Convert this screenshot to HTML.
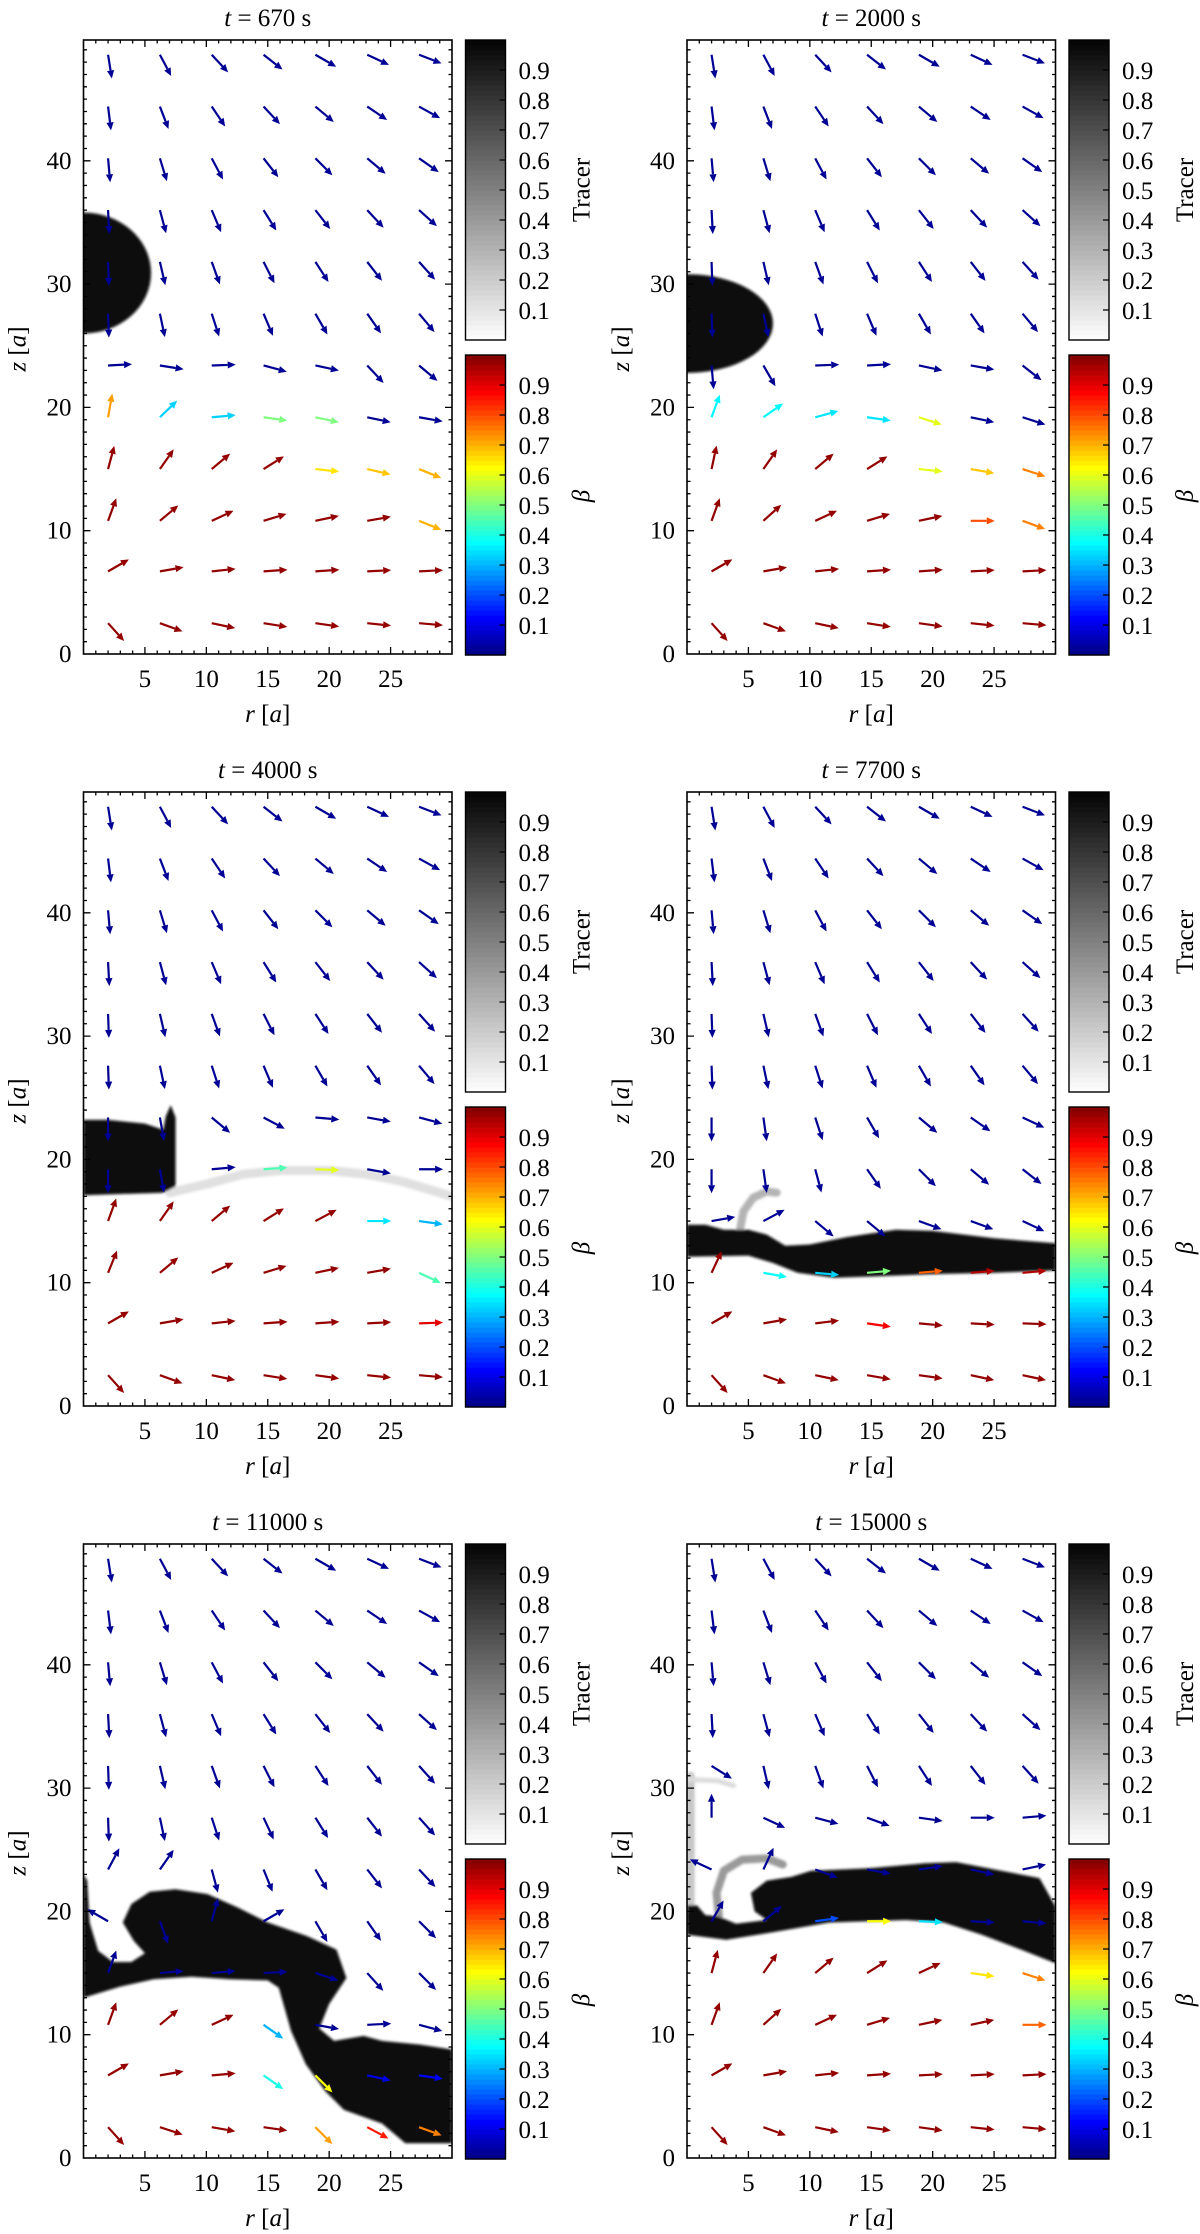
<!DOCTYPE html>
<html><head><meta charset="utf-8"><title>Tracer and beta panels</title>
<style>
html,body{margin:0;padding:0;background:#fff;}
svg{display:block;font-family:"Liberation Serif","DejaVu Serif",serif;}
</style></head>
<body>
<svg id="fig" width="1200" height="2234" viewBox="0 0 1200 2234" xmlns="http://www.w3.org/2000/svg">
<defs>
<filter id="soft" x="-10%" y="-10%" width="120%" height="120%"><feGaussianBlur stdDeviation="1.4"/></filter>
</defs>
</svg>
<script>
// ---------- data ----------
const timeLabels = ['670','2000','4000','7700','11000','15000'];
const rTicks = [5,10,15,20,25];
const zTicks = [0,10,20,30,40];
const cbTicks = ['0.1','0.2','0.3','0.4','0.5','0.6','0.7','0.8','0.9'];
const rGrid = [2.0,6.22,10.44,14.66,18.88,23.1,27.32];
const zGrid = [48.6,44.4,40.2,36.0,31.8,27.6,23.4,19.2,15.0,10.8,6.7,2.5];

// arrow angles (deg, 0=+r, 90=+z), rows top->bottom
const ang670 = [
[-81,-62,-47,-38,-30,-25,-21],[-83,-69,-56,-47,-40,-34,-29],[-85,-73,-62,-52,-45,-40,-35],
[-87,-75,-67,-58,-52,-47,-42],[-88,-77,-70,-63,-57,-52,-48],[-88,-78,-72,-67,-60,-55,-50],
[3,-9,2,-15,-12,-47,-40],[80,44,5,-8,-12,-12,-10],[75,55,40,32,-6,-13,-22],
[70,40,25,17,12,10,-22],[30,10,6,4,4,3,3],[-48,-20,-12,-9,-8,-6,-5]];
const beta670 = [
[.02,.02,.02,.02,.02,.02,.02],[.02,.02,.02,.02,.02,.02,.02],[.02,.02,.02,.02,.02,.02,.02],
[.02,.02,.02,.02,.02,.02,.02],[.02,.02,.02,.02,.02,.02,.02],[.02,.02,.02,.02,.02,.02,.02],
[.02,.02,.02,.02,.02,.02,.02],[.72,.33,.33,.5,.5,.02,.02],[.98,.98,.98,.98,.65,.68,.7],
[.98,.98,.98,.98,.98,.98,.7],[.98,.98,.98,.98,.98,.98,.98],[.98,.98,.98,.98,.98,.98,.98]];
const ang2000 = [
[-81,-62,-47,-38,-30,-25,-21],[-83,-69,-56,-47,-40,-34,-29],[-85,-73,-62,-52,-45,-40,-35],
[-87,-75,-67,-58,-52,-47,-42],[-88,-77,-70,-63,-57,-52,-48],[-88,-78,-72,-67,-60,-55,-50],
[-85,-60,2,3,-12,-10,-38],[70,35,15,-8,-18,-12,-18],[78,55,40,32,-6,-10,-18],
[70,42,25,17,12,0,-20],[30,10,6,4,4,3,3],[-48,-20,-12,-9,-8,-6,-5]];
const beta2000 = [
[.02,.02,.02,.02,.02,.02,.02],[.02,.02,.02,.02,.02,.02,.02],[.02,.02,.02,.02,.02,.02,.02],
[.02,.02,.02,.02,.02,.02,.02],[.02,.02,.02,.02,.02,.02,.02],[.02,.02,.02,.02,.02,.02,.02],
[.02,.02,.02,.02,.02,.02,.02],[.37,.37,.35,.35,.6,.02,.02],[.98,.98,.98,.98,.6,.68,.75],
[.98,.98,.98,.98,.98,.8,.75],[.98,.98,.98,.98,.98,.98,.98],[.98,.98,.98,.98,.98,.98,.98]];
const ang4000 = [
[-81,-62,-47,-38,-30,-25,-21],[-83,-69,-56,-47,-40,-34,-29],[-85,-73,-62,-52,-45,-40,-35],
[-87,-75,-67,-58,-52,-47,-42],[-88,-77,-70,-63,-57,-52,-48],[-88,-78,-72,-67,-60,-55,-50],
[-90,-80,-40,-28,-5,-10,-15],[-90,-80,5,4,-2,-10,0],[70,55,40,32,28,0,-8],
[68,40,25,17,12,10,-25],[30,10,6,4,4,3,2],[-48,-20,-12,-9,-8,-6,-5]];
const beta4000 = [
[.02,.02,.02,.02,.02,.02,.02],[.02,.02,.02,.02,.02,.02,.02],[.02,.02,.02,.02,.02,.02,.02],
[.02,.02,.02,.02,.02,.02,.02],[.02,.02,.02,.02,.02,.02,.02],[.02,.02,.02,.02,.02,.02,.02],
[.02,.02,.02,.02,.02,.02,.02],[.02,.02,.02,.45,.6,.02,.02],[.98,.98,.98,.98,.98,.35,.3],
[.98,.98,.98,.98,.98,.98,.45],[.98,.98,.98,.98,.98,.98,.9],[.98,.98,.98,.98,.98,.98,.98]];
const ang7700 = [
[-81,-62,-47,-38,-30,-25,-21],[-83,-69,-56,-47,-40,-34,-29],[-85,-73,-62,-52,-45,-40,-35],
[-87,-75,-67,-58,-52,-47,-42],[-88,-77,-70,-63,-57,-52,-48],[-88,-78,-72,-67,-60,-55,-50],
[-90,-82,-72,-60,-40,-35,-25],[-90,-82,-75,-55,-45,-40,-38],[10,28,-40,-40,-20,-20,-25],
[65,-10,-5,5,5,5,5],[30,10,7,-8,-5,-3,-2],[-48,-20,-12,-10,-8,-12,-12]];
const beta7700 = [
[.02,.02,.02,.02,.02,.02,.02],[.02,.02,.02,.02,.02,.02,.02],[.02,.02,.02,.02,.02,.02,.02],
[.02,.02,.02,.02,.02,.02,.02],[.02,.02,.02,.02,.02,.02,.02],[.02,.02,.02,.02,.02,.02,.02],
[.02,.02,.02,.02,.02,.02,.02],[.02,.02,.02,.02,.02,.02,.02],[.02,.02,.02,.02,.02,.02,.02],
[.98,.38,.33,.5,.78,.95,.95],[.98,.98,.98,.88,.98,.98,.98],[.98,.98,.98,.98,.98,.98,.98]];
const ang11000 = [
[-81,-62,-47,-38,-30,-25,-21],[-83,-69,-56,-47,-40,-34,-29],[-85,-73,-62,-52,-45,-40,-35],
[-87,-75,-67,-58,-52,-47,-42],[-88,-77,-70,-63,-57,-52,-48],[-88,-78,-72,-65,-58,-52,-48],
[62,55,-75,-68,-60,-52,-47],[150,-70,75,30,-60,-55,-45],[70,5,5,3,-18,-48,-45],
[70,40,25,-35,-10,3,-15],[30,10,5,-35,-45,-12,-8],[-48,-18,-10,-8,-45,-28,-20]];
const beta11000 = [
[.02,.02,.02,.02,.02,.02,.02],[.02,.02,.02,.02,.02,.02,.02],[.02,.02,.02,.02,.02,.02,.02],
[.02,.02,.02,.02,.02,.02,.02],[.02,.02,.02,.02,.02,.02,.02],[.02,.02,.02,.02,.02,.02,.02],
[.02,.02,.02,.02,.02,.02,.02],[.02,.02,.02,.02,.02,.02,.02],[.02,.02,.02,.02,.02,.02,.02],
[.98,.98,.98,.3,.02,.02,.02],[.98,.98,.98,.4,.62,.1,.12],[.98,.98,.98,.98,.72,.85,.75]];
const ang15000 = [
[-81,-62,-47,-38,-30,-25,-21],[-83,-69,-56,-47,-40,-34,-29],[-85,-73,-62,-52,-45,-40,-35],
[-87,-75,-67,-58,-52,-47,-42],[-32,-77,-70,-63,-57,-52,-48],[90,-25,-15,-20,-8,0,5],
[155,65,-20,-10,8,-12,12],[60,40,8,0,-2,-3,-5],[75,55,40,32,25,-8,-18],
[70,42,25,17,12,12,0],[30,10,6,4,3,3,3],[-48,-20,-12,-8,-8,-6,-5]];
const beta15000 = [
[.02,.02,.02,.02,.02,.02,.02],[.02,.02,.02,.02,.02,.02,.02],[.02,.02,.02,.02,.02,.02,.02],
[.02,.02,.02,.02,.02,.02,.02],[.02,.02,.02,.02,.02,.02,.02],[.02,.02,.02,.02,.02,.02,.02],
[.02,.02,.02,.02,.02,.02,.02],[.02,.02,.2,.62,.35,.02,.02],[.98,.98,.98,.98,.98,.65,.75],
[.98,.98,.98,.98,.98,.98,.78],[.98,.98,.98,.98,.98,.98,.98],[.98,.98,.98,.98,.98,.98,.98]];

// tracer shapes in (r, z)
const blob670 = [0,30.9,5.5,4.9];   // ellipse: r0, z0, rr, rz
const blob2000 = [0,26.8,7.0,4.0];
const poly4000 = [[0,17.1],[6.5,17.3],[7.5,17.8],[7.5,23.4],[7.1,24.4],[6.7,23.5],[6.5,22.4],[5,22.9],[2,23.2],[0,23.2]];
const streak4000 = [[7,17.3],[10,18.0],[13,18.8],[16,19.1],[20,19.1],[23,18.8],[26,18.2],[30,17.0]];
const poly7700 = [[0,12.1],[5,12.2],[7,11.6],[9,10.8],[12,10.4],[15,10.5],[20,10.7],[25,10.8],[30,11.0],[30,13.2],[25,13.6],[20,14.2],[17,14.3],[13,13.7],[10,13.1],[8,13.0],[6.5,13.9],[5,14.3],[3,14.3],[1.5,14.7],[0,14.7]];
const wisp7700 = [[4.3,14.2],[4.6,15.8],[5.4,16.9],[6.5,17.4],[7.3,17.3]];
const poly11000 = [[0,13.0],[3,13.9],[5.7,14.5],[8.8,14.7],[11.9,14.5],[15,14.4],[15.9,13.8],[16.9,10.3],[18.1,7.6],[19.7,5.4],[21.2,3.9],[24.3,2.8],[26.2,1.2],[30,1.2],[30,8.8],[27.4,9.2],[24.3,9.5],[22.8,9.9],[20.4,9.5],[19.2,10.5],[20,12.5],[21.4,14.6],[20.6,16.9],[18.2,18.0],[15,19.1],[12.6,20.3],[10.1,21.4],[7.5,21.8],[5.4,21.6],[3.9,20.6],[3.2,19.1],[4.1,17.6],[5.0,16.6],[3.9,15.9],[2.4,15.9],[1.2,16.8],[0.5,19.1],[0.3,22.5],[0,23]];
const poly15000 = [[0,18.1],[3.2,17.7],[6.9,18.3],[11.6,19.1],[17.8,19.3],[20.9,19.1],[24,18.1],[27.2,16.9],[30,15.8],[30,20.4],[28.7,22.7],[24,23.6],[21.9,24.0],[19.4,23.9],[14.8,23.5],[10.1,23.3],[8.5,22.8],[6.5,22.5],[5.2,21.5],[5.5,20],[6.5,19.3],[4,19.0],[2.5,19.6],[1.5,19.7],[0.8,20.5],[0,20.5]];
const curl15000 = [[2.6,19.6],[2.4,21.5],[3.0,23.3],[4.5,24.2],[6.5,24.3],[7.8,23.8]];
const strip15000 = [[0.3,20],[0.3,31]];
const streak15000 = [[0,30.7],[2.5,30.6],[3.8,30.2]];

const angleSets = [ang670,ang2000,ang4000,ang7700,ang11000,ang15000];
const betaSets = [beta670,beta2000,beta4000,beta7700,beta11000,beta15000];

// ---------- drawing ----------
const NS = 'http://www.w3.org/2000/svg';
const svg = document.getElementById('fig');
function mk(tag, attrs, parent){
  const e = document.createElementNS(NS, tag);
  for (const k in attrs) e.setAttribute(k, attrs[k]);
  (parent||svg).appendChild(e);
  return e;
}
function jet(x){
  const c = v => Math.round(255*Math.max(0,Math.min(1,v)));
  return 'rgb('+c(1.5-Math.abs(4*x-3))+','+c(1.5-Math.abs(4*x-2))+','+c(1.5-Math.abs(4*x-1))+')';
}
const PW = 368.5, PH = 614, RS = PW/30, ZS = 12.33, ALEN = 24;

for (let p = 0; p < 6; p++){
  const col = p%2, row = Math.floor(p/2);
  const X0 = col ? 687 : 83.5;
  const Y0 = 40 + 752*row, YB = Y0 + PH;
  const sx = r => X0 + r*RS;
  const sy = z => YB - z*ZS;
  const g = mk('g', {});
  
  

  // title
  const tt = mk('text', {x: X0+PW/2, y: Y0-14, 'font-size': 25, 'text-anchor': 'middle'}, g);
  
  
  const ti = mk('tspan', {'font-style':'italic'}, tt); ti.textContent = 't';
  const tr = mk('tspan', {}, tt); tr.textContent = ' = ' + timeLabels[p] + ' s';

  // clip
  const cp = mk('clipPath', {id: 'clip'+p}, g);
  mk('rect', {x: X0, y: Y0, width: PW, height: PH}, cp);
  const plot = mk('g', {'clip-path': 'url(#clip'+p+')'}, g);
  
  

  // tracer
  const tg = mk('g', {filter: 'url(#soft)'}, plot);
  
  
  const poly = (pts, fill) => {
    const e = mk('polygon', {points: pts.map(q => sx(q[0]).toFixed(1)+','+sy(q[1]).toFixed(1)).join(' '), fill: fill}, tg);
    
    
  };
  const line = (pts, stroke, w) => {
    const e = mk('polyline', {points: pts.map(q => sx(q[0]).toFixed(1)+','+sy(q[1]).toFixed(1)).join(' '), fill: 'none', stroke: stroke, 'stroke-width': w, 'stroke-linecap': 'round', 'stroke-linejoin': 'round'}, tg);
    
    
  };
  const ell = (b) => {
    const e = mk('ellipse', {cx: sx(b[0]), cy: sy(b[1]), rx: b[2]*RS, ry: b[3]*ZS, fill: '#0a0a0a'}, tg);
    
    
  };
  if (p === 0) ell(blob670);
  if (p === 1) ell(blob2000);
  if (p === 2){ line(streak4000, '#e0e0e0', 9); poly(poly4000, '#0a0a0a'); }
  if (p === 3){ line(wisp7700, '#b4b4b4', 8); poly(poly7700, '#111'); }
  if (p === 4){ poly(poly11000, '#111'); }
  if (p === 5){ line(strip15000, '#c8c8c8', 8); line(streak15000, '#dcdcdc', 5); line(curl15000, '#9a9a9a', 8); poly(poly15000, '#111'); }

  // arrows
  const A = angleSets[p], B = betaSets[p];
  for (let k = 0; k < zGrid.length; k++){
    for (let j = 0; j < rGrid.length; j++){
      const a = A[k][j]*Math.PI/180;
      const x1 = sx(rGrid[j]), y1 = sy(zGrid[k]);
      const ux = Math.cos(a), uy = -Math.sin(a);
      const x2 = x1 + ALEN*ux, y2 = y1 + ALEN*uy;
      const c = jet(B[k][j]);
      const ag = mk('g', {}, plot);
      
      
      const hx = x2 - 8*ux, hy = y2 - 8*uy;
      mk('line', {x1: x1, y1: y1, x2: hx, y2: hy, stroke: c, 'stroke-width': 2.2}, ag);
      mk('polygon', {points: x2+','+y2+' '+(hx-3.6*uy)+','+(hy+3.6*ux)+' '+(hx+3.6*uy)+','+(hy-3.6*ux), fill: c}, ag);
    }
  }

  // frame + ticks
  const fr = mk('rect', {x: X0, y: Y0, width: PW, height: PH, fill: 'none', stroke: '#000', 'stroke-width': 1.6}, g);
  
  
  let d = '';
  for (let r = 1; r < 30; r++){
    const L = (r%5===0) ? 7 : 3.5, x = sx(r);
    d += 'M'+x+' '+YB+'v'+(-L)+'M'+x+' '+Y0+'v'+L;
  }
  for (let z = 1; z < 50; z++){
    const L = (z%10===0) ? 7 : 3.5, y = sy(z);
    d += 'M'+X0+' '+y+'h'+L+'M'+(X0+PW)+' '+y+'h'+(-L);
  }
  const tk = mk('path', {d: d, stroke: '#000', 'stroke-width': 1.3, fill: 'none'}, g);
  
  
  rTicks.forEach(v => {
    const t = mk('text', {x: sx(v), y: YB+33, 'font-size': 25, 'text-anchor': 'middle'}, g);
    
    
    t.textContent = v;
  });
  zTicks.forEach(v => {
    const t = mk('text', {x: X0-12, y: sy(v)+8, 'font-size': 25, 'text-anchor': 'end'}, g);
    
    
    t.textContent = v;
  });
  // axis titles
  const xt = mk('text', {x: X0+PW/2, y: YB+68, 'font-size': 25, 'text-anchor': 'middle'}, g);
  
  
  mk('tspan', {'font-style':'italic'}, xt).textContent = 'r';
  mk('tspan', {}, xt).textContent = ' [';
  mk('tspan', {'font-style':'italic'}, xt).textContent = 'a';
  mk('tspan', {}, xt).textContent = ']';
  const yx = X0 - 58, yy = Y0 + 309;
  const yt = mk('text', {x: yx, y: yy, 'font-size': 25, 'text-anchor': 'middle', transform: 'rotate(-90 '+yx+' '+yy+')'}, g);
  
  
  mk('tspan', {'font-style':'italic'}, yt).textContent = 'z';
  mk('tspan', {}, yt).textContent = ' [';
  mk('tspan', {'font-style':'italic'}, yt).textContent = 'a';
  mk('tspan', {}, yt).textContent = ']';

  // colorbars
  const CX = X0 + 382, CW = 40;
  [[Y0, 'tracer'], [Y0+315, 'beta']].forEach(([cy, kind]) => {
    const CH = 300;
    const cb = mk('g', {}, g);
    
    
    const N = 60;
    for (let i = 0; i < N; i++){
      const v = (i+0.5)/N;
      const fill = kind === 'tracer' ? (function(){ const gv = Math.round(250*(1-v)+4); return 'rgb('+gv+','+gv+','+gv+')'; })() : jet(v);
      mk('rect', {x: CX, y: cy + CH - (i+1)*CH/N, width: CW, height: CH/N+0.6, fill: fill}, cb);
    }
    mk('rect', {x: CX, y: cy, width: CW, height: CH, fill: 'none', stroke: '#000', 'stroke-width': 1.4}, cb);
    let cd = '';
    cbTicks.forEach(s => { const y = cy + CH - parseFloat(s)*CH; cd += 'M'+(CX+CW)+' '+y+'h-6'; });
    mk('path', {d: cd, stroke: '#000', 'stroke-width': 1.3}, cb);
    cbTicks.forEach(s => {
      const t = mk('text', {x: CX+53, y: cy + CH - parseFloat(s)*CH + 9, 'font-size': 25}, cb);
      
      
      t.textContent = s;
    });
    const lx = CX + 124, ly = cy + (kind === 'tracer' ? 150 : 141);
    const lt = mk('text', {x: lx, y: ly, 'font-size': 25, 'text-anchor': 'middle', transform: 'rotate(-90 '+lx+' '+ly+')'}, cb);
    
    
    if (kind === 'tracer') lt.textContent = 'Tracer';
    else { lt.setAttribute('font-style', 'italic'); lt.textContent = 'β'; }
  });
}
</script>
</body></html>
